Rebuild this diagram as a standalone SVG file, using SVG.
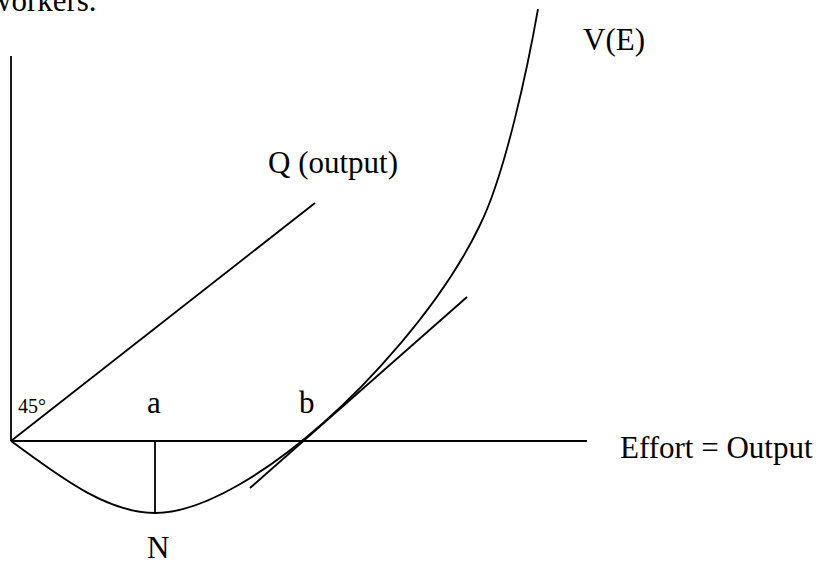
<svg xmlns="http://www.w3.org/2000/svg" width="833" height="565" viewBox="0 0 833 565">
<style>
.ln{stroke:#000;stroke-width:1.8;fill:none}
text{font-family:"Liberation Serif","Times New Roman",serif;fill:#000;font-size:31px}
.sm{font-size:20px}
</style>
<rect width="833" height="565" fill="#fff"/>
<text id="caption" x="-11" y="11">workers.</text>
<g id="connectors">
<line id="y-axis" class="ln" x1="11" y1="56" x2="11" y2="441"/>
<line id="x-axis" class="ln" x1="11" y1="441" x2="587" y2="441"/>
<line id="q-line" class="ln" x1="11" y1="441" x2="315" y2="203"/>
<line id="tangent" class="ln" x1="250" y1="488" x2="467" y2="297"/>
<line id="n-drop" class="ln" x1="155" y1="441" x2="155" y2="513"/>
<path id="v-curve" class="ln" d="M11,441 C55,473 105,513 155,513 C205,513 272,468 322,424 C362,389 440,309 480,225 C505,175 528,66 538,9"/>
</g>
<g id="node-VE"><text x="583" y="50">V(E)</text></g>
<g id="node-Q"><text x="268" y="173">Q (output)</text></g>
<g id="node-45"><text class="sm" x="18" y="413">45°</text></g>
<g id="node-a"><text x="147" y="413">a</text></g>
<g id="node-b"><text x="299" y="413">b</text></g>
<g id="node-effort"><text x="620" y="458">Effort = Output</text></g>
<g id="node-N"><text x="147" y="558">N</text></g>
</svg>
